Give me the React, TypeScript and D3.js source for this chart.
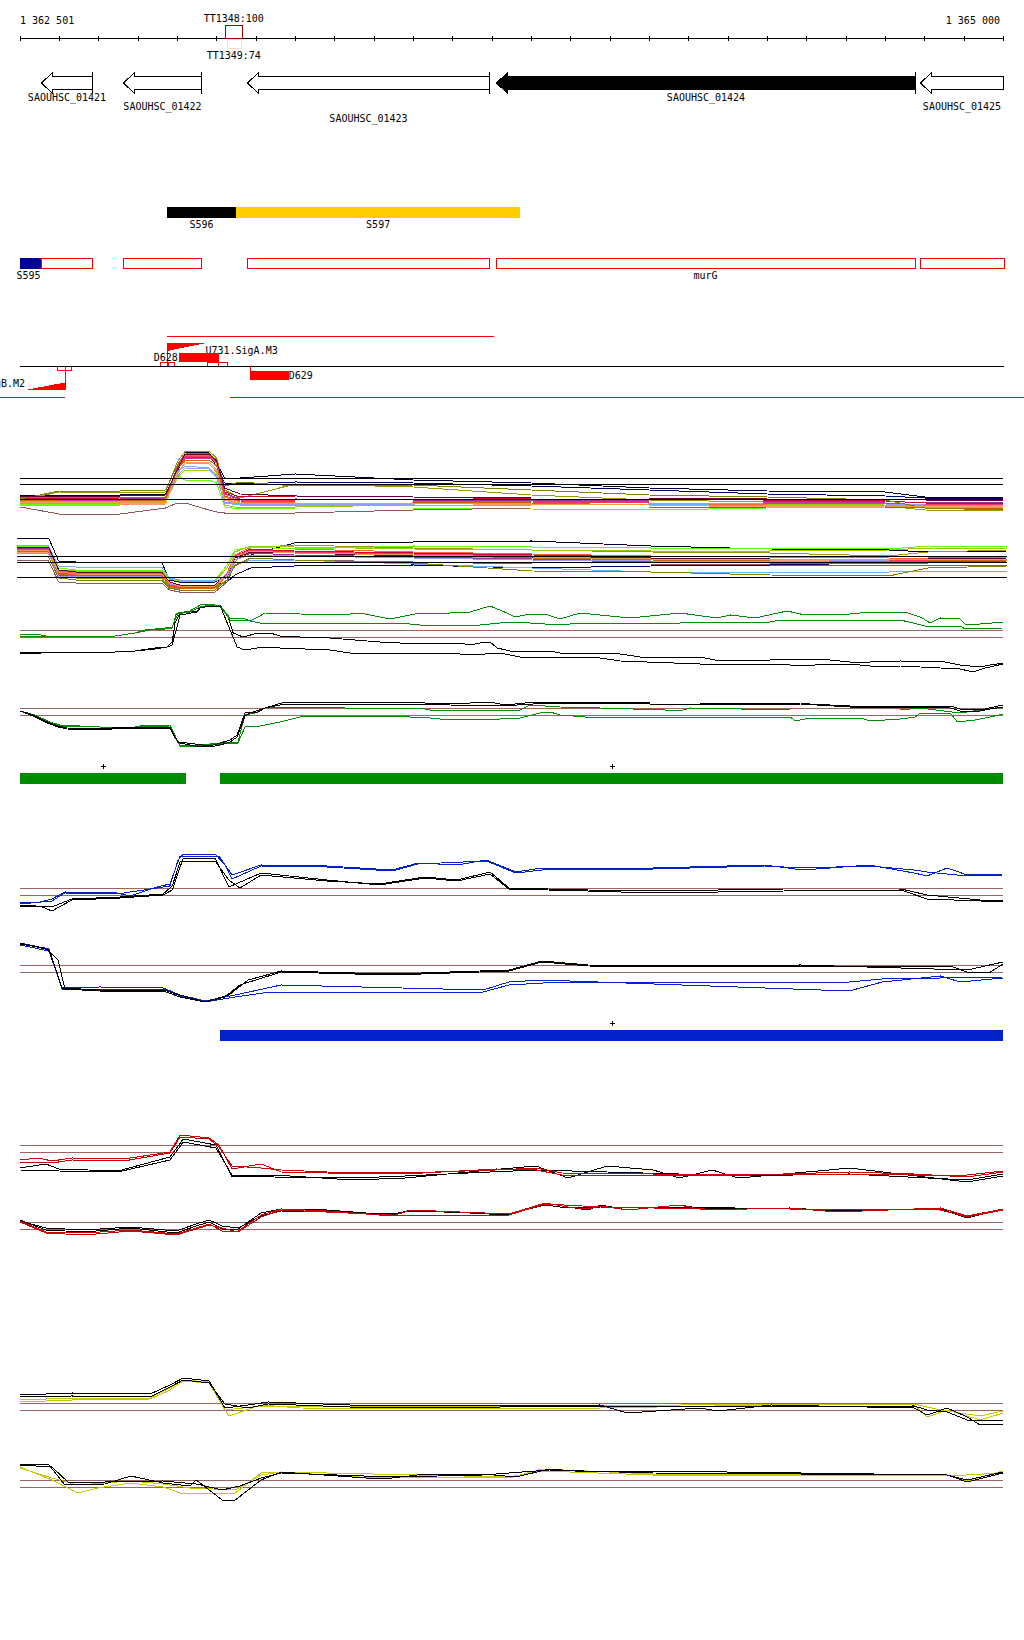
import React from 'react';
import * as d3 from 'd3';

type Pt = [number, number];

// ---------- window / axis ----------
const WINDOW_START = 1362501;
const WINDOW_END = 1365000;
const WINDOW_LABELS = ['1 362 501', '1 365 000'];
const TICK_COORDS = d3.range(1362600, 1365000, 100);

// positions below are bp from WINDOW_START
const TT_NAMES = ['TT1348:100', 'TT1349:74'];
const TT_SPANS: Pt[] = [[522, 565], [526, 561]];

const GENE_NAMES = ['SAOUHSC_01421', 'SAOUHSC_01422', 'SAOUHSC_01423', 'SAOUHSC_01424', 'SAOUHSC_01425'];
const GENE_STARTS = [54, 263, 577, 1210, 2287];
const GENE_ENDS = [184, 461, 1193, 2276, 2620];
const GENE_HIGHLIGHT = [false, false, false, true, false];
const GENE_LABEL_LANE = [0, 1, 2, 0, 1];

const SEG_NAMES = ['S596', 'S597'];
const SEG_SPANS: Pt[] = [[374, 549], [549, 1272]];
const SEG_COLORS = ['#000000', '#ffcc00'];

const S595_SPAN: Pt = [0, 54];
const OPERON_LABEL = 'murG';

const PROMOTERS = ['U731.SigA.M3', 'U730.SigB.M2'];
const PROMOTER_SPANS: Pt[] = [[374, 474], [13, 114]];
const TERM_BOXES = [[357, 375, 390], [476, 504, 527], [93, 114, 129]];
const DSTR_NAMES = ['D628', 'D629'];
const DSTR_SPANS: Pt[] = [[404, 506], [585, 683]];
const UPPER_RED_SPAN: Pt = [374, 1206];
const LOWER_RED_SPANS: Pt[] = [[-60, 114], [534, 2650]];

const GREEN_BLOCKS: Pt[] = [[0, 421], [509, 2499]];
const BLUE_BLOCKS: Pt[] = [[509, 2499]];

// ---------- multi-condition panels ----------
const SERIES_COLORS = ['#000033', '#000066', '#999900', '#cc0033', '#cc3399', '#ff6633', '#66ff00', '#99cc00', '#66b2ff',
  '#ff9966', '#993399', '#8c5a5a', '#cc6600', '#9999ff', '#ff3366', '#808000', '#660033', '#e6a04c'];

const P1_POS = [0, 100, 255, 370, 400, 420, 480, 500, 520, 560, 700, 1000, 1300, 1600, 1900, 2200, 2300, 2499];
const P1_VALUES = [
  [2.5, 2.5, 2.5, 2.6, 5.0, 6.8, 6.7, 5.8, 4.2, 4.2, 4.6, 4.0, 3.7, 3.2, 2.9, 2.8, 2.3, 2.3],
  [2.3, 2.3, 2.4, 2.5, 4.8, 6.5, 6.5, 5.4, 3.7, 3.6, 3.8, 3.7, 3.4, 3.0, 2.6, 2.4, 2.2, 2.2],
  [2.0, 2.8, 2.7, 2.8, 5.8, 6.9, 6.9, 6.2, 3.0, 2.2, 3.6, 3.3, 2.5, 2.0, 1.8, 1.4, 1.0, 0.9],
  [2.2, 2.1, 2.2, 2.3, 5.0, 6.5, 6.4, 6.0, 2.8, 2.3, 2.4, 2.3, 2.1, 2.0, 2.0, 1.9, 1.7, 1.6],
  [1.9, 2.0, 2.0, 2.1, 5.2, 6.2, 6.2, 5.8, 2.6, 2.0, 2.1, 2.0, 1.9, 1.8, 1.8, 1.7, 1.5, 1.4],
  [1.8, 1.8, 1.9, 2.0, 5.4, 6.5, 6.5, 5.6, 2.3, 1.8, 1.7, 1.7, 1.6, 1.6, 1.5, 1.5, 1.4, 1.3],
  [1.5, 1.6, 1.6, 1.7, 4.5, 4.0, 4.0, 3.7, 1.3, 1.1, 1.2, 1.2, 1.1, 1.0, 1.2, 1.3, 1.3, 1.4],
  [1.6, 1.7, 1.7, 1.8, 4.2, 5.0, 5.0, 4.6, 1.5, 1.2, 1.3, 1.5, 1.4, 1.4, 1.5, 1.6, 1.5, 1.6],
  [1.7, 1.7, 1.8, 1.9, 4.8, 5.4, 5.2, 4.4, 1.7, 1.5, 1.5, 1.4, 1.5, 1.6, 1.4, 1.4, 1.5, 1.5],
  [1.4, 1.5, 1.5, 1.6, 4.6, 5.8, 5.8, 5.0, 2.0, 1.6, 1.6, 1.7, 1.5, 1.5, 1.3, 1.4, 1.4, 1.3],
  [2.1, 2.1, 2.1, 2.2, 5.3, 6.3, 6.3, 5.9, 2.7, 2.1, 2.0, 2.0, 2.0, 1.9, 1.9, 1.8, 1.8, 1.7],
  [1.3, 0.6, 0.6, 1.2, 1.7, 1.7, 1.0, 0.8, 0.7, 0.7, 0.7, 1.0, 1.2, 1.2, 1.3, 1.3, 1.3, 1.2],
  [2.0, 1.9, 1.9, 2.0, 5.1, 6.0, 6.0, 5.4, 2.4, 1.9, 1.8, 1.8, 1.7, 1.5, 1.5, 1.4, 1.2, 1.1],
  [1.8, 1.9, 1.9, 1.9, 4.4, 5.2, 5.1, 4.2, 1.8, 1.6, 1.6, 1.6, 1.7, 1.7, 1.6, 1.6, 1.5, 1.6],
  [2.3, 2.3, 2.3, 2.3, 5.2, 6.4, 6.4, 5.8, 2.6, 2.0, 1.9, 1.9, 1.8, 1.7, 1.7, 1.6, 1.6, 1.5],
  [2.1, 2.9, 2.9, 3.0, 5.5, 6.7, 6.6, 6.0, 3.4, 3.8, 3.4, 3.5, 3.0, 2.5, 2.3, 2.0, 1.2, 1.0],
  [2.4, 2.4, 2.4, 2.5, 5.1, 6.6, 6.6, 5.9, 3.2, 2.6, 2.4, 2.3, 2.2, 2.2, 2.1, 2.1, 2.0, 1.9],
  [1.7, 1.8, 1.8, 1.8, 4.7, 5.7, 5.6, 4.8, 2.1, 1.7, 1.7, 1.6, 1.6, 1.5, 1.5, 1.4, 1.3, 1.3],
];
const P1_REFS = [4.17, 3.6, 2.07];

const P2_POS = [0, 80, 105, 150, 365, 385, 410, 500, 530, 550, 590, 700, 1000, 1300, 1600, 1900, 2200, 2300, 2499];
const P2_VALUES = [
  [6.2, 6.2, 3.9, 3.8, 3.8, 2.0, 1.8, 1.8, 2.5, 4.0, 4.5, 5.7, 5.8, 5.9, 5.4, 5.1, 5.0, 4.8, 4.9],
  [5.5, 5.4, 3.0, 2.8, 2.8, 1.7, 1.5, 1.5, 1.8, 2.5, 3.2, 3.4, 3.5, 3.2, 3.4, 3.5, 3.7, 3.7, 3.8],
  [4.8, 4.7, 2.3, 2.2, 2.2, 1.3, 1.1, 1.2, 2.0, 3.8, 5.2, 5.5, 5.2, 5.0, 4.8, 4.7, 4.4, 4.8, 5.0],
  [5.2, 5.1, 2.8, 2.6, 2.6, 1.6, 1.4, 1.4, 2.6, 4.4, 5.1, 4.9, 4.7, 4.5, 4.4, 4.3, 4.2, 4.1, 4.2],
  [5.0, 4.9, 2.5, 2.5, 2.5, 1.5, 1.3, 1.3, 2.4, 4.2, 4.9, 4.7, 4.4, 4.0, 3.8, 3.7, 3.6, 3.7, 3.8],
  [5.3, 5.2, 2.9, 2.7, 2.7, 1.7, 1.4, 1.4, 2.7, 4.5, 5.3, 5.1, 4.8, 4.6, 4.4, 4.3, 4.2, 4.2, 4.3],
  [5.4, 5.3, 3.2, 3.0, 3.0, 2.2, 2.0, 2.0, 3.5, 5.0, 5.3, 5.1, 5.4, 5.3, 5.2, 5.2, 5.1, 5.4, 5.3],
  [5.1, 5.0, 3.0, 2.9, 2.9, 2.1, 1.9, 1.9, 3.2, 4.8, 5.4, 5.3, 5.1, 5.0, 4.9, 4.9, 5.0, 5.2, 5.2],
  [5.5, 5.4, 3.4, 3.3, 3.3, 2.2, 2.0, 1.9, 2.3, 3.5, 4.0, 4.0, 3.6, 3.2, 2.8, 2.7, 2.8, 2.9, 2.9],
  [4.8, 4.7, 2.6, 2.5, 2.4, 1.5, 1.2, 1.2, 2.5, 4.4, 5.0, 4.7, 4.4, 4.2, 4.1, 4.0, 3.9, 4.0, 4.0],
  [5.2, 5.1, 2.7, 2.6, 2.6, 1.6, 1.4, 1.4, 2.3, 4.0, 4.7, 4.5, 4.3, 4.1, 3.9, 3.8, 3.8, 3.8, 3.9],
  [4.0, 3.9, 1.8, 1.7, 1.7, 1.0, 0.8, 0.8, 1.8, 3.5, 4.2, 4.0, 3.8, 3.6, 3.6, 3.5, 3.4, 3.5, 3.5],
  [4.9, 4.8, 2.6, 2.4, 2.4, 1.4, 1.2, 1.2, 2.5, 4.3, 4.9, 4.8, 4.5, 4.2, 4.0, 3.9, 3.8, 3.9, 4.0],
  [4.7, 4.6, 2.4, 2.4, 2.4, 1.6, 1.4, 1.4, 2.4, 4.0, 4.5, 4.4, 4.2, 4.0, 3.9, 3.8, 4.0, 4.1, 4.1],
  [5.1, 5.0, 2.7, 2.5, 2.5, 1.5, 1.3, 1.3, 2.6, 4.4, 5.0, 4.8, 4.6, 4.4, 4.2, 4.1, 4.0, 4.0, 4.1],
  [4.4, 4.3, 2.2, 2.0, 2.0, 1.2, 1.0, 1.0, 2.0, 3.4, 4.2, 4.0, 3.7, 2.9, 2.8, 2.5, 2.4, 3.2, 3.4],
  [5.3, 5.3, 3.0, 2.8, 2.8, 1.8, 1.5, 1.5, 2.5, 4.2, 4.8, 4.7, 4.4, 4.3, 4.2, 4.1, 4.0, 4.1, 4.2],
  [5.0, 4.9, 2.8, 2.6, 2.6, 1.7, 1.4, 1.4, 2.5, 4.3, 4.9, 4.7, 4.5, 4.3, 4.1, 4.1, 4.0, 4.1, 4.1],
];
const P2_REFS = [4.43, 3.77, 2.3];

// ---------- paired strand panels ----------
const P3_GREEN_A: Pt[] = [[0,4.5],[43,4.6],[76,4.3],[109,4.4],[242,4.4],[292,4.7],[318,5.0],[369,5.2],[387,5.3],[402,6.7],[432,6.9],[458,7.5],[483,7.6],[509,7.4],[534,6.2],[572,6.1],[585,5.9],[605,6.3],[623,6.7],[712,6.6],[814,6.5],[865,6.7],[903,6.4],[941,6.1],[992,6.5],[1017,6.7],[1093,6.7],[1144,6.8],[1195,7.4],[1238,6.7],[1259,6.3],[1297,6.6],[1335,6.6],[1373,6.1],[1424,6.7],[1551,6.2],[1678,6.7],[1772,6.2],[1806,6.5],[1869,6.2],[1950,6.9],[1984,6.6],[2111,6.6],[2162,6.8],[2250,6.8],[2289,6.3],[2314,5.7],[2340,6.2],[2390,6.1],[2403,5.6],[2441,5.6],[2499,5.8]];
const P3_GREEN_B: Pt[] = [[0,4.4],[76,4.3],[109,4.4],[242,4.4],[292,4.7],[331,5.0],[369,5.1],[387,5.2],[397,6.6],[432,6.8],[458,7.3],[483,7.5],[509,7.4],[534,6.0],[572,6.0],[610,5.7],[966,5.7],[1017,5.5],[1170,5.5],[1246,5.8],[1297,5.7],[1373,5.5],[1424,5.7],[1678,5.7],[1704,5.8],[1907,5.8],[1933,6.0],[2238,6.0],[2301,5.4],[2390,5.4],[2403,5.1],[2499,5.2]];
const P3_BLACK_A: Pt[] = [[0,2.7],[109,2.8],[242,2.8],[292,2.9],[343,3.2],[374,3.3],[387,3.8],[394,5.7],[407,6.7],[450,6.9],[458,7.3],[483,7.5],[509,7.5],[529,6.3],[542,4.7],[567,4.3],[605,4.7],[636,4.7],[661,4.4],[712,4.3],[788,4.2],[915,3.8],[966,3.7],[1093,3.7],[1119,3.7],[1144,3.5],[1170,3.7],[1195,3.8],[1213,3.2],[1246,2.9],[1272,2.8],[1348,2.9],[1373,2.7],[1475,2.7],[1526,2.6],[1577,2.3],[1729,2.3],[1767,2.0],[1907,2.0],[1984,2.1],[2034,2.1],[2111,1.8],[2162,1.8],[2238,1.9],[2352,1.8],[2390,1.5],[2441,1.3],[2467,1.5],[2499,1.7]];
const P3_BLACK_B: Pt[] = [[0,2.6],[109,2.8],[242,2.8],[292,2.9],[343,3.1],[374,3.3],[387,3.5],[397,5.0],[407,6.5],[450,6.8],[458,7.2],[483,7.4],[509,7.4],[529,5.5],[552,3.3],[572,3.0],[618,3.3],[661,3.2],[788,3.0],[839,2.7],[1093,2.7],[1144,2.5],[1221,2.7],[1272,2.3],[1348,2.3],[1475,2.2],[1526,1.9],[1729,1.6],[1933,1.6],[1984,1.4],[2060,1.6],[2111,1.6],[2162,1.4],[2238,1.4],[2289,1.3],[2390,1.1],[2423,0.8],[2454,1.2],[2499,1.6]];
const P3_REFS = [5.0, 4.3];

const P4_BLACK_A: Pt[] = [[0,4.9],[33,4.5],[58,4.0],[76,3.7],[97,3.4],[120,3.2],[203,3.1],[267,3.3],[356,3.3],[381,3.3],[394,2.3],[402,1.8],[445,1.6],[483,1.4],[509,1.7],[534,2.0],[552,2.5],[572,4.7],[605,4.8],[623,5.2],[648,5.5],[674,5.8],[966,5.8],[1093,5.6],[1144,5.7],[1195,5.8],[1233,5.5],[1310,5.8],[1475,5.8],[1602,5.7],[1729,5.7],[1984,5.7],[2009,5.6],[2111,5.4],[2238,5.4],[2365,5.4],[2390,5.1],[2441,5.0],[2499,5.5]];
const P4_BLACK_B: Pt[] = [[0,4.9],[33,4.4],[58,3.9],[76,3.6],[97,3.3],[120,3.1],[203,3.0],[267,3.2],[356,3.2],[381,3.2],[394,2.2],[407,1.7],[445,1.4],[483,1.3],[509,1.5],[534,1.8],[552,2.3],[572,4.4],[585,4.7],[623,5.2],[661,5.5],[712,5.6],[966,5.6],[1093,5.5],[1221,5.4],[1348,5.7],[1602,5.6],[1984,5.6],[2111,5.3],[2238,5.3],[2365,5.2],[2390,4.9],[2429,4.8],[2467,5.1],[2499,5.3]];
const P4_GREEN_A: Pt[] = [[0,4.9],[38,4.5],[76,3.8],[102,3.5],[203,3.3],[292,3.3],[318,3.5],[381,3.5],[402,1.8],[407,1.5],[445,1.5],[483,1.6],[554,1.8],[572,4.5],[598,4.7],[623,5.2],[687,5.3],[788,5.3],[826,5.2],[1017,5.2],[1043,5.0],[1272,5.0],[1297,5.5],[1373,5.3],[1475,5.2],[1640,5.0],[1686,5.0],[1704,5.2],[1958,5.0],[2238,5.0],[2289,5.2],[2390,4.7],[2441,5.0],[2499,5.3]];
const P4_GREEN_B: Pt[] = [[0,4.9],[38,4.4],[76,3.8],[102,3.4],[203,3.3],[292,3.3],[381,3.4],[402,1.7],[407,1.4],[445,1.4],[483,1.5],[554,1.7],[572,3.3],[610,3.4],[661,3.8],[712,4.3],[788,4.4],[966,4.4],[992,4.3],[1043,4.2],[1093,4.0],[1221,4.1],[1272,4.2],[1322,4.7],[1348,4.8],[1373,4.5],[1437,4.3],[1602,4.3],[1958,4.3],[1971,3.9],[2009,4.2],[2136,4.2],[2162,3.9],[2238,4.1],[2276,4.3],[2289,4.7],[2365,4.7],[2383,3.8],[2429,4.0],[2467,4.3],[2499,4.6]];
const P4_REFS = [5.2, 4.5];

const P5_BLUE_A: Pt[] = [[0,1.8],[51,1.8],[81,2.1],[114,2.8],[247,2.7],[280,2.4],[348,3.3],[381,3.6],[407,6.4],[506,6.4],[539,4.5],[613,5.5],[781,5.4],[946,5.0],[1012,5.7],[1111,5.5],[1185,6.0],[1261,4.8],[1327,5.2],[1610,5.2],[1892,5.5],[1991,5.0],[2159,5.5],[2273,4.7],[2306,4.4],[2357,5.2],[2408,4.5],[2499,4.6]];
const P5_BLUE_B: Pt[] = [[0,1.6],[81,1.9],[114,2.7],[247,2.6],[348,3.2],[381,3.4],[402,6.0],[415,6.6],[496,6.6],[521,5.5],[539,4.1],[613,5.4],[781,5.3],[946,4.9],[1012,5.6],[1185,5.9],[1261,4.7],[1327,5.0],[1610,5.1],[1892,5.4],[1991,5.2],[2159,5.4],[2273,5.0],[2306,4.8],[2357,4.6],[2408,4.4],[2499,4.5]];
const P5_BLACK_A: Pt[] = [[0,1.3],[51,1.4],[81,0.9],[132,2.0],[254,2.2],[364,2.5],[387,3.0],[415,6.2],[496,6.2],[531,3.3],[613,4.7],[781,4.0],[913,3.5],[1030,4.2],[1111,3.9],[1195,4.6],[1243,3.1],[1444,2.9],[1610,2.7],[1943,2.9],[2240,3.0],[2306,2.1],[2441,1.9],[2499,1.8]];
const P5_BLACK_B: Pt[] = [[0,1.5],[81,1.3],[132,2.1],[254,2.3],[364,2.6],[387,3.4],[407,5.8],[496,5.9],[531,4.0],[559,3.2],[613,4.5],[781,3.9],[913,3.6],[1030,4.3],[1111,4.0],[1195,4.8],[1243,3.2],[1444,3.0],[1610,2.9],[1943,3.1],[2240,3.1],[2306,2.5],[2441,2.0],[2499,1.9]];
const P5_REFS = [3.2, 2.5];

const P6_BLACK_A: Pt[] = [[0,6.7],[74,6.0],[107,2.2],[203,2.0],[364,2.0],[407,1.5],[470,0.8],[531,1.5],[580,3.0],[664,3.9],[946,3.6],[1243,4.0],[1327,4.9],[1444,4.5],[1729,4.4],[1984,4.5],[2408,4.0],[2499,4.8]];
const P6_BLACK_B: Pt[] = [[0,6.6],[64,6.2],[97,5.0],[114,2.1],[203,1.9],[364,1.9],[407,1.3],[470,0.8],[521,1.3],[559,2.5],[664,3.8],[946,3.5],[1243,3.9],[1327,4.8],[1444,4.4],[1729,4.3],[1984,4.4],[2365,4.4],[2408,3.8],[2467,3.8],[2499,4.6]];
const P6_BLUE_A: Pt[] = [[0,6.7],[74,6.1],[107,2.2],[203,2.3],[364,2.2],[407,1.5],[470,0.9],[547,1.5],[664,2.5],[1177,2.0],[1243,2.8],[1327,3.0],[2108,1.9],[2192,2.8],[2340,3.4],[2390,2.8],[2499,3.2]];
const P6_BLUE_B: Pt[] = [[0,6.5],[74,5.9],[107,2.1],[364,2.1],[407,1.4],[470,0.8],[547,1.3],[636,1.8],[1177,1.8],[1243,2.5],[1373,2.8],[2108,2.8],[2192,3.1],[2340,3.2],[2499,3.3]];
const P6_REFS = [4.5, 3.8];

const P7_RED_A: Pt[] = [[0,3.0],[48,3.2],[81,2.9],[132,3.2],[264,3.1],[381,3.8],[407,5.5],[481,5.2],[506,4.5],[539,2.1],[613,2.6],[664,1.8],[781,1.7],[979,1.6],[1210,2.1],[1312,2.0],[1378,1.5],[1610,1.5],[1775,1.4],[2108,1.8],[2273,1.6],[2408,1.3],[2499,1.8]];
const P7_RED_B: Pt[] = [[0,2.8],[81,2.7],[132,3.0],[264,2.9],[381,3.7],[407,5.3],[481,5.1],[506,4.3],[539,2.4],[613,2.2],[664,2.0],[781,1.8],[979,1.7],[1210,2.0],[1312,2.2],[1378,1.7],[1610,1.6],[1775,1.5],[2108,1.6],[2273,1.5],[2408,1.5],[2499,1.9]];
const P7_BLACK_A: Pt[] = [[0,2.2],[66,2.6],[99,2.1],[249,1.9],[381,3.3],[415,5.1],[498,4.5],[539,1.3],[646,1.5],[847,1.0],[979,1.2],[1195,2.0],[1312,2.4],[1393,1.2],[1493,2.4],[1610,2.0],[1676,1.2],[1760,2.0],[1826,1.2],[2057,2.0],[2108,2.2],[2408,0.8],[2499,1.4]];
const P7_BLACK_B: Pt[] = [[0,2.0],[99,1.9],[249,1.8],[381,3.0],[415,4.8],[498,4.2],[539,1.5],[646,1.3],[847,1.2],[979,1.4],[1195,1.8],[1312,2.0],[1493,1.8],[1676,1.6],[1826,1.4],[2108,1.6],[2408,1.0],[2499,1.6]];
const P7_REFS = [4.5, 3.8];

const P8_BLACK_A: Pt[] = [[0,2.0],[66,1.0],[165,0.8],[282,1.2],[397,0.7],[448,1.4],[481,1.8],[514,1.1],[554,1.1],[613,2.7],[664,3.1],[781,3.0],[946,2.5],[994,3.0],[1243,2.5],[1335,3.7],[1393,3.3],[1444,3.0],[1477,3.5],[1544,3.0],[1676,3.5],[1742,3.1],[1958,3.2],[2075,2.9],[2340,3.1],[2408,2.2],[2499,3.1]];
const P8_RED_A: Pt[] = [[0,1.9],[66,0.8],[165,0.7],[282,1.0],[397,0.6],[448,1.2],[481,1.6],[514,0.9],[554,0.9],[613,2.5],[664,3.1],[781,2.9],[946,2.4],[994,3.0],[1243,2.6],[1335,3.7],[1393,3.3],[1444,3.1],[1477,3.4],[1544,3.0],[1676,3.5],[1742,3.0],[1958,3.2],[2075,2.8],[2340,3.2],[2408,2.4],[2499,3.1]];
const P8_BLACK_B: Pt[] = [[0,1.9],[66,1.2],[165,1.0],[282,1.3],[397,0.9],[448,1.6],[481,2.0],[514,1.4],[554,1.2],[613,2.4],[664,2.9],[781,2.8],[946,2.6],[994,2.9],[1243,2.6],[1335,3.5],[1393,3.2],[1477,3.3],[1676,3.3],[1958,3.1],[2340,3.0],[2408,2.4],[2499,3.0]];
const P8_RED_B: Pt[] = [[0,1.8],[66,0.7],[165,0.5],[282,0.9],[397,0.5],[481,1.5],[554,0.8],[613,2.3],[664,3.0],[946,2.5],[1243,2.5],[1335,3.6],[1477,3.3],[1742,3.1],[1958,3.1],[2340,3.0],[2408,2.3],[2499,3.0]];
const P8_REFS = [1.8, 1.1];

const P9_BLACK_A: Pt[] = [[0,3.5],[132,3.7],[331,3.6],[381,4.5],[415,5.2],[481,4.9],[521,2.2],[580,2.5],[631,2.8],[839,2.5],[1221,2.4],[1475,2.5],[1544,1.7],[1729,2.2],[1775,1.9],[1910,2.5],[2273,2.2],[2306,1.5],[2357,2.2],[2408,1.3],[2441,0.5],[2499,0.6]];
const P9_BLACK_B: Pt[] = [[0,3.3],[132,3.4],[331,3.3],[381,4.3],[415,5.0],[481,4.7],[521,2.6],[580,2.2],[631,2.6],[839,2.3],[1221,2.3],[1475,2.4],[1729,2.4],[1910,2.3],[2273,2.4],[2306,2.0],[2357,1.8],[2408,1.0],[2499,1.0]];
const P9_YELLOW_A: Pt[] = [[0,3.0],[132,3.2],[331,3.2],[381,4.2],[415,5.0],[481,4.8],[531,1.4],[613,2.5],[712,2.2],[1221,2.1],[1475,2.2],[1910,2.5],[2273,2.5],[2306,1.3],[2357,2.0],[2441,1.0],[2499,1.7]];
const P9_YELLOW_B: Pt[] = [[0,2.8],[132,3.0],[331,3.1],[381,4.0],[415,4.9],[481,4.7],[521,2.0],[613,2.4],[1221,2.3],[1910,2.6],[2273,2.6],[2340,2.0],[2441,1.4],[2499,1.9]];
const P9_REFS = [2.7, 2.0];

const P10_BLACK_A: Pt[] = [[0,4.6],[74,4.5],[114,2.5],[216,2.6],[282,3.4],[364,2.7],[432,2.4],[448,3.0],[514,1.0],[547,1.0],[613,3.0],[664,3.8],[880,3.2],[946,3.2],[1030,3.6],[1177,3.6],[1261,3.3],[1345,4.1],[1411,3.9],[1610,3.9],[2357,3.5],[2408,2.8],[2499,3.7]];
const P10_BLACK_B: Pt[] = [[0,4.5],[81,4.3],[122,2.8],[216,2.8],[364,2.9],[448,2.6],[514,2.0],[559,2.4],[613,3.2],[664,3.7],[946,3.3],[1177,3.5],[1345,4.0],[1610,3.7],[2357,3.5],[2408,3.0],[2499,3.8]];
const P10_YELLOW_A: Pt[] = [[0,4.3],[81,3.0],[147,1.7],[198,2.2],[282,2.7],[364,2.3],[415,1.6],[547,1.7],[613,3.7],[664,3.8],[862,3.3],[1243,3.2],[1327,4.1],[1610,3.6],[2357,3.5],[2408,2.9],[2499,3.9]];
const P10_YELLOW_B: Pt[] = [[0,4.2],[81,3.2],[147,2.5],[282,2.9],[364,2.6],[432,2.2],[547,2.0],[613,3.5],[664,3.8],[1243,3.3],[1327,3.9],[1610,3.5],[2357,3.4],[2499,3.7]];
const P10_REFS = [3.0, 2.3];

// ---------- drawing ----------
const FONT = "'DejaVu Sans Mono', 'Liberation Mono', monospace";
const LAST = WINDOW_END - WINDOW_START; // 2499
const xs = d3.scaleLinear().domain([0, LAST]).range([20, 1003]);
const xs2 = d3.scaleLinear().domain([0, LAST]).range([17, 1007]);
const REF_COLOR = '#996666';
const GREEN = '#008c00';
const BLUE = '#0022c8';
const RED = '#cc0000';
const YELLOW = '#c8c800';

const clampX = (p: number) => xs(Math.max(0, Math.min(LAST, p)));

function Trace({ data, y, color, x = xs, w = 1 }: { data: Pt[]; y: d3.ScaleLinear<number, number>; color: string; x?: d3.ScaleLinear<number, number>; w?: number }) {
  const line = d3.line<Pt>().x(d => x(d[0])).y(d => y(d[1]));
  return <path d={line(data) || ''} fill="none" stroke={color} strokeWidth={w} />;
}

function RefLines({ refs, y, color, x = xs, w = 1 }: { refs: number[]; y: d3.ScaleLinear<number, number>; color: string; x?: d3.ScaleLinear<number, number>; w?: number }) {
  return (
    <g>
      {refs.map((r, i) => (
        <line key={i} x1={x(0)} x2={x(LAST)} y1={Math.round(y(r)) + 0.5} y2={Math.round(y(r)) + 0.5} stroke={color} strokeWidth={w} />
      ))}
    </g>
  );
}

function Pair({ series, refs, y }: { series: { d: Pt[]; c: string }[]; refs: number[]; y: d3.ScaleLinear<number, number> }) {
  return (
    <g>
      <RefLines refs={refs} y={y} color={REF_COLOR} />
      {series.map((s, i) => <Trace key={i} data={s.d} y={y} color={s.c} />)}
    </g>
  );
}

function StrandBlocks({ spans, color, top }: { spans: Pt[]; color: string; top: number }) {
  return (
    <g>
      {spans.map((s, i) => {
        const x0 = xs(s[0]);
        const x1 = xs(s[1]);
        const cx = Math.round((x0 + x1) / 2);
        return (
          <g key={i}>
            <rect x={x0} y={top} width={x1 - x0} height={11} fill={color} />
            <line x1={cx - 2.5} x2={cx + 2.5} y1={top - 6.5} y2={top - 6.5} stroke="#000" />
            <line x1={cx + 0.5} x2={cx + 0.5} y1={top - 9} y2={top - 4} stroke="#000" />
          </g>
        );
      })}
    </g>
  );
}

export default function App() {
  const yP1 = d3.scaleLinear().domain([0, 10]).range([520, 420]);
  const yP2 = d3.scaleLinear().domain([0, 10]).range([600, 500]);
  const yP3 = d3.scaleLinear().domain([0, 10]).range([680, 580]);
  const yP4 = d3.scaleLinear().domain([0, 10]).range([760, 660]);
  const yP5 = d3.scaleLinear().domain([0, 10]).range([920, 820]);
  const yP6 = d3.scaleLinear().domain([0, 10]).range([1010, 910]);
  const yP7 = d3.scaleLinear().domain([0, 10]).range([1190, 1090]);
  const yP8 = d3.scaleLinear().domain([0, 10]).range([1240, 1140]);
  const yP9 = d3.scaleLinear().domain([0, 10]).range([1430, 1330]);
  const yP10 = d3.scaleLinear().domain([0, 10]).range([1510, 1410]);

  const axisY = 38.5;
  const tickOffsets = [0, ...TICK_COORDS.map(t => t - WINDOW_START), LAST];

  const labelBase = [101, 110, 121.5];

  return (
    <svg width={1024} height={1640} style={{ position: 'absolute', left: 0, top: 0, background: '#fff' }}
      shapeRendering="crispEdges" fontFamily={FONT} fontSize={10}>
      <rect x={0} y={0} width={1024} height={1640} fill="#fff" />

      {/* coordinate axis */}
      <text x={20} y={24}>{WINDOW_LABELS[0]}</text>
      <text x={1000} y={24} textAnchor="end">{WINDOW_LABELS[1]}</text>
      <line x1={xs(0)} x2={xs(LAST)} y1={axisY} y2={axisY} stroke="#000" />
      {tickOffsets.map((t, i) => (
        <line key={i} x1={Math.round(xs(t)) + 0.5} x2={Math.round(xs(t)) + 0.5} y1={36} y2={41} stroke="#000" />
      ))}

      {/* terminators */}
      <rect x={Math.round(xs(TT_SPANS[0][0])) + 0.5} y={25.5} width={Math.round(xs(TT_SPANS[0][1]) - xs(TT_SPANS[0][0]))} height={12.5} fill="none" stroke="#990000" />
      <rect x={Math.round(xs(TT_SPANS[1][0])) + 0.5} y={39} width={Math.round(xs(TT_SPANS[1][1]) - xs(TT_SPANS[1][0]))} height={9.5} fill="none" stroke="#ffd9cc" />
      <text x={(xs(TT_SPANS[0][0]) + xs(TT_SPANS[0][1])) / 2} y={22.3} textAnchor="middle">{TT_NAMES[0]}</text>
      <text x={(xs(TT_SPANS[1][0]) + xs(TT_SPANS[1][1])) / 2} y={59} textAnchor="middle">{TT_NAMES[1]}</text>

      {/* genes (minus strand arrows) */}
      {GENE_NAMES.map((name, i) => {
        const xt = Math.round(xs(GENE_STARTS[i])) + 0.5;
        const clipped = GENE_ENDS[i] > LAST;
        const xe = Math.round(clampX(GENE_ENDS[i])) + 0.5;
        const xh = xt + 11;
        const pts = [[xt, 83], [xh, 72.5], [xh, 76.5], [xe, 76.5], [xe, 89.5], [xh, 89.5], [xh, 93.5]]
          .map(p => p.join(',')).join(' ');
        const fill = GENE_HIGHLIGHT[i] ? '#000' : '#fff';
        return (
          <g key={name}>
            <polygon points={pts} fill={fill} stroke="#000" />
            {!clipped && <line x1={xe} x2={xe} y1={71.5} y2={94} stroke="#000" />}
            <text x={(xt + xe) / 2} y={labelBase[GENE_LABEL_LANE[i]]} textAnchor="middle">{name}</text>
          </g>
        );
      })}

      {/* segments S596 / S597 */}
      {SEG_NAMES.map((n, i) => (
        <g key={n}>
          <rect x={xs(SEG_SPANS[i][0])} y={207} width={xs(SEG_SPANS[i][1]) - xs(SEG_SPANS[i][0])} height={11} fill={SEG_COLORS[i]} />
          <text x={(xs(SEG_SPANS[i][0]) + xs(SEG_SPANS[i][1])) / 2} y={227.5} textAnchor="middle">{n}</text>
        </g>
      ))}

      {/* S595 and transcript units */}
      <rect x={xs(S595_SPAN[0])} y={258} width={xs(S595_SPAN[1]) - xs(S595_SPAN[0])} height={11} fill="#000099" />
      <text x={(xs(S595_SPAN[0]) + xs(S595_SPAN[1])) / 2 - 2} y={278.7} textAnchor="middle">S595</text>
      {GENE_STARTS.map((s, i) => (
        <rect key={i} x={Math.round(xs(s)) + 0.5} y={258.5} width={Math.round(Math.min(xs(GENE_ENDS[i]), 1004) - xs(s))} height={10}
          fill="none" stroke="#ff0000" />
      ))}
      <text x={(xs(GENE_STARTS[3]) + xs(GENE_ENDS[3])) / 2} y={278.7} textAnchor="middle">{OPERON_LABEL}</text>

      {/* promoters / regulatory */}
      <line x1={xs(UPPER_RED_SPAN[0])} x2={xs(UPPER_RED_SPAN[1])} y1={336.5} y2={336.5} stroke="#ff0000" />
      <polygon points={`${xs(PROMOTER_SPANS[0][0])},343 ${xs(PROMOTER_SPANS[0][1])},343 ${xs(PROMOTER_SPANS[0][0])},351`} fill="#ff0000" />
      <line x1={Math.round(xs(PROMOTER_SPANS[0][0])) + 0.5} x2={Math.round(xs(PROMOTER_SPANS[0][0])) + 0.5} y1={343} y2={362} stroke="#ff0000" />
      <text x={xs(PROMOTER_SPANS[0][1]) - 1} y={353.5}>{PROMOTERS[0]}</text>

      <rect x={xs(DSTR_SPANS[0][0])} y={353} width={xs(DSTR_SPANS[0][1]) - xs(DSTR_SPANS[0][0])} height={9} fill="#ff0000" />
      <text x={xs(DSTR_SPANS[0][0]) - 1} y={361.3} textAnchor="end">{DSTR_NAMES[0]}</text>

      {TERM_BOXES.map((b, i) => {
        const yTop = i < 2 ? 362.5 : 366.5;
        return (
          <g key={i}>
            <rect x={Math.round(xs(b[0])) + 0.5} y={yTop} width={Math.round(xs(b[1]) - xs(b[0]))} height={4} fill="#fff" stroke="#ff0000" />
            <rect x={Math.round(xs(b[1])) + 0.5} y={yTop} width={Math.round(xs(b[2]) - xs(b[1]))} height={4} fill="#fff" stroke="#ff0000" />
          </g>
        );
      })}

      <line x1={xs(0)} x2={1004} y1={366.5} y2={366.5} stroke="#000" />

      <line x1={Math.round(xs(DSTR_SPANS[1][0])) + 0.5} x2={Math.round(xs(DSTR_SPANS[1][0])) + 0.5} y1={366} y2={371} stroke="#ff0000" />
      <rect x={xs(DSTR_SPANS[1][0])} y={371} width={xs(DSTR_SPANS[1][1]) - xs(DSTR_SPANS[1][0])} height={9} fill="#ff0000" />
      <text x={xs(DSTR_SPANS[1][1])} y={379}>{DSTR_NAMES[1]}</text>

      <line x1={Math.round(xs(PROMOTER_SPANS[1][1])) + 0.5} x2={Math.round(xs(PROMOTER_SPANS[1][1])) + 0.5} y1={370} y2={390} stroke="#ff0000" />
      <polygon points={`${xs(PROMOTER_SPANS[1][0])},390 ${xs(PROMOTER_SPANS[1][1])},390 ${xs(PROMOTER_SPANS[1][1])},382.5`} fill="#ff0000" />
      <text x={xs(PROMOTER_SPANS[1][0])} y={386.7} textAnchor="end">{PROMOTERS[1]}</text>

      {LOWER_RED_SPANS.map((s, i) => (
        <line key={i} x1={xs(s[0])} x2={xs(s[1])} y1={397.5} y2={397.5} stroke="#ff0000" />
      ))}

      {/* panel 1: all conditions, strand + */}
      {P1_VALUES.map((vals, i) => (
        <Trace key={i} data={P1_POS.map((p, j) => [p, vals[j]] as Pt)} y={yP1} color={SERIES_COLORS[i]} />
      ))}
      <RefLines refs={P1_REFS} y={yP1} color="#000" w={1.6} />

      {/* panel 2: all conditions, strand - */}
      {P2_VALUES.map((vals, i) => (
        <Trace key={i} data={P2_POS.map((p, j) => [p, vals[j]] as Pt)} y={yP2} color={SERIES_COLORS[i]} x={xs2} />
      ))}
      <RefLines refs={P2_REFS} y={yP2} color="#000" x={xs2} w={1.6} />

      {/* green group */}
      <Pair y={yP3} refs={P3_REFS} series={[{ d: P3_BLACK_A, c: '#000' }, { d: P3_BLACK_B, c: '#000' }, { d: P3_GREEN_A, c: GREEN }, { d: P3_GREEN_B, c: GREEN }]} />
      <Pair y={yP4} refs={P4_REFS} series={[{ d: P4_GREEN_A, c: GREEN }, { d: P4_GREEN_B, c: GREEN }, { d: P4_BLACK_A, c: '#000' }, { d: P4_BLACK_B, c: '#000' }]} />
      <StrandBlocks spans={GREEN_BLOCKS} color={GREEN} top={773} />

      {/* blue group */}
      <Pair y={yP5} refs={P5_REFS} series={[{ d: P5_BLACK_A, c: '#000' }, { d: P5_BLACK_B, c: '#000' }, { d: P5_BLUE_A, c: BLUE }, { d: P5_BLUE_B, c: BLUE }]} />
      <Pair y={yP6} refs={P6_REFS} series={[{ d: P6_BLUE_A, c: BLUE }, { d: P6_BLUE_B, c: BLUE }, { d: P6_BLACK_A, c: '#000' }, { d: P6_BLACK_B, c: '#000' }]} />
      <StrandBlocks spans={BLUE_BLOCKS} color={BLUE} top={1030} />

      {/* red group */}
      <Pair y={yP7} refs={P7_REFS} series={[{ d: P7_BLACK_A, c: '#000' }, { d: P7_BLACK_B, c: '#000' }, { d: P7_RED_A, c: RED }, { d: P7_RED_B, c: RED }]} />
      <Pair y={yP8} refs={P8_REFS} series={[{ d: P8_BLACK_A, c: '#000' }, { d: P8_BLACK_B, c: '#000' }, { d: P8_RED_A, c: RED }, { d: P8_RED_B, c: RED }]} />

      {/* yellow group */}
      <Pair y={yP9} refs={P9_REFS} series={[{ d: P9_YELLOW_A, c: YELLOW }, { d: P9_YELLOW_B, c: YELLOW }, { d: P9_BLACK_A, c: '#000' }, { d: P9_BLACK_B, c: '#000' }]} />
      <Pair y={yP10} refs={P10_REFS} series={[{ d: P10_YELLOW_A, c: YELLOW }, { d: P10_YELLOW_B, c: YELLOW }, { d: P10_BLACK_A, c: '#000' }, { d: P10_BLACK_B, c: '#000' }]} />
    </svg>
  );
}
